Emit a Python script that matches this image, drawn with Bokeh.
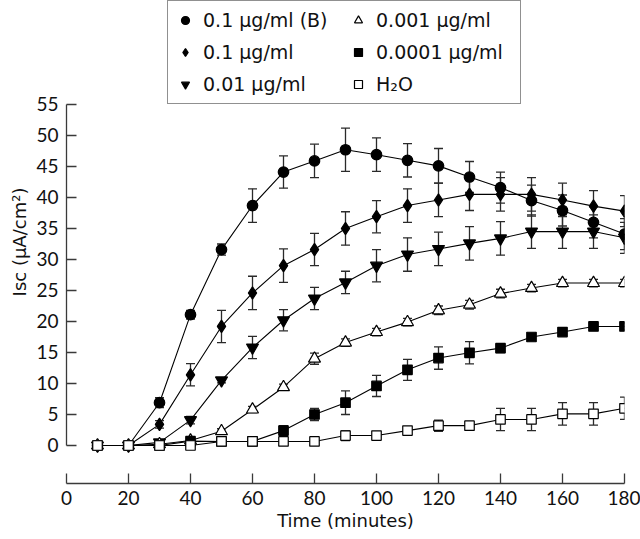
from bokeh.plotting import figure
from bokeh.models import Range1d, FixedTicker, Legend, LegendItem, Title
from bokeh.embed import file_html
from bokeh.resources import INLINE

# ---- data ----
time_min = [10, 20, 30, 40, 50, 60, 70, 80, 90, 100, 110, 120, 130, 140, 150, 160, 170, 180]

isc_01_b = [0, 0, 6.9, 21.1, 31.6, 38.7, 44.1, 45.9, 47.7, 46.9, 46.0, 45.1, 43.3, 41.6, 39.5, 37.9, 36.0, 34.1]
err_01_b = [0.3, 0.3, 0.8, 0.7, 0.9, 2.7, 2.6, 2.7, 3.5, 2.7, 2.7, 2.8, 2.5, 2.5, 2.5, 2.5, 2.5, 2.5]

isc_01 = [0, 0, 3.4, 11.4, 19.2, 24.6, 29.0, 31.6, 35.0, 36.9, 38.7, 39.6, 40.5, 40.5, 40.5, 39.6, 38.6, 37.8]
err_01 = [0.3, 0.3, 0.6, 1.8, 2.6, 2.7, 2.7, 2.6, 2.7, 2.6, 2.7, 2.7, 2.6, 2.7, 2.7, 2.7, 2.5, 2.5]

isc_001 = [0, 0, 0.5, 4.1, 10.5, 15.8, 20.2, 23.7, 26.3, 29.0, 30.8, 31.7, 32.6, 33.4, 34.5, 34.5, 34.5, 33.5]
err_001 = [0.3, 0.3, 0.4, 0.6, 0.4, 1.8, 1.7, 1.8, 1.8, 2.6, 2.7, 2.7, 2.7, 2.7, 2.7, 2.7, 2.7, 2.5]

isc_0001 = [0, 0, 0.2, 0.8, 2.3, 5.8, 9.4, 14.0, 16.6, 18.3, 19.9, 21.8, 22.7, 24.5, 25.4, 26.2, 26.2, 26.2]
err_0001 = [0.2, 0.2, 0.3, 0.4, 0.4, 0.5, 0.5, 0.9, 0.6, 0.6, 0.6, 0.7, 0.7, 0.7, 0.6, 0.6, 0.6, 0.6]

isc_00001 = [0, 0, 0, 0.7, 0.65, 0.65, 2.4, 5.0, 6.9, 9.6, 12.2, 14.1, 14.95, 15.7, 17.5, 18.3, 19.2, 19.2]
err_00001 = [0.3, 0.3, 0.3, 0.6, 0.3, 0.3, 0.8, 1.0, 1.9, 1.7, 1.7, 1.8, 1.8, 0.7, 0.5, 0.6, 0.6, 0.6]

isc_h2o = [0, 0, 0, 0, 0.65, 0.65, 0.65, 0.65, 1.6, 1.6, 2.4, 3.2, 3.2, 4.2, 4.2, 5.1, 5.1, 6.0]
err_h2o = [0.2, 0.2, 0.2, 0.3, 0.2, 0.2, 0.3, 0.6, 0.8, 0.6, 0.5, 0.9, 0.6, 1.8, 1.8, 1.8, 1.8, 1.8]

series_labels = ["0.1 \u03bcg/ml (B)", "0.1 \u03bcg/ml", "0.01 \u03bcg/ml",
                 "0.001 \u03bcg/ml", "0.0001 \u03bcg/ml", "H\u2082O"]

x_ticks = [0, 20, 40, 60, 80, 100, 120, 140, 160, 180]
y_ticks = [0, 5, 10, 15, 20, 25, 30, 35, 40, 45, 50, 55]

x_title = "Time (minutes)"
y_title = "Isc (\u03bcA/cm\u00b2)"

# ---- styles ----
TICK_FONT = "Lato"
TEXT_FONT = "DejaVu Sans"
INK = "#111111"
AXIS = "#3a3a3a"
styles = [
    dict(marker="circle", size=10.5, fill="black"),
    dict(marker="diamond", size=12.5, fill="black"),
    dict(marker="inverted_triangle", size=12, fill="black"),
    dict(marker="triangle", size=12, fill="white"),
    dict(marker="square", size=9.5, fill="black"),
    dict(marker="square", size=9.5, fill="white"),
]
values = [isc_01_b, isc_01, isc_001, isc_0001, isc_00001, isc_h2o]
errors = [err_01_b, err_01, err_001, err_0001, err_00001, err_h2o]

p = figure(width=640, height=539, output_backend="svg", toolbar_location=None,
           x_range=Range1d(0, 180), y_range=Range1d(-6.13, 71.77),
           min_border_left=66, min_border_right=16, min_border_top=0, min_border_bottom=56)
p.outline_line_color = None
p.xgrid.visible = False
p.ygrid.visible = False
p.background_fill_color = "white"
p.border_fill_color = "white"

for ax in (p.xaxis[0], p.yaxis[0]):
    ax.axis_line_color = AXIS
    ax.axis_line_width = 1.3
    ax.major_tick_line_color = AXIS
    ax.major_tick_line_width = 1.3
    ax.major_tick_in = 10
    ax.major_tick_out = 0
    ax.minor_tick_line_color = None
    ax.major_label_text_font = TICK_FONT
    ax.major_label_text_font_size = "19px"
    ax.major_label_text_color = INK

p.xaxis.ticker = FixedTicker(ticks=x_ticks)
p.yaxis.ticker = FixedTicker(ticks=y_ticks)
p.yaxis.bounds = (0, 55)
p.xaxis.bounds = (0, 180)
p.xaxis.major_label_standoff = 7
p.yaxis.major_label_standoff = 8
p.xaxis.axis_label = x_title
p.xaxis.axis_label_standoff = 2
p.xaxis.axis_label_text_font = TEXT_FONT
p.xaxis.axis_label_text_font_size = "18px"
p.xaxis.axis_label_text_font_style = "normal"
p.xaxis.axis_label_text_color = INK

for vals, errs in zip(values, errors):
    p.line(time_min, vals, line_color="black", line_width=1.1)
    lo = [v - e for v, e in zip(vals, errs)]
    hi = [v + e for v, e in zip(vals, errs)]
    p.segment(time_min, lo, time_min, hi, line_color="#2a2a2a", line_width=1.3)
    p.scatter(time_min, lo, marker="dash", size=9, line_color="#2a2a2a", line_width=1.3)
    p.scatter(time_min, hi, marker="dash", size=9, line_color="#2a2a2a", line_width=1.3)

scatter_renderers = []
for vals, st in zip(values, styles):
    r = p.scatter(time_min, vals, marker=st["marker"], size=st["size"],
                  fill_color=st["fill"], line_color="black", line_width=1.2)
    scatter_renderers.append(r)

legend = Legend(items=[LegendItem(label=lab, renderers=[r]) for lab, r in zip(series_labels, scatter_renderers)],
                location=(101, 379), orientation="vertical", nrows=3,
                label_text_font=TEXT_FONT, label_text_font_size="19px", label_text_color=INK,
                glyph_width=20, glyph_height=24, label_height=24, label_width=137,
                label_standoff=8, spacing=8, padding=7,
                margin=0, border_line_color="#222222", border_line_width=1.5,
                background_fill_color="white", background_fill_alpha=1.0)
p.add_layout(legend)

ytitle = Title(text=y_title, align="center", offset=-20, standoff=8,
               text_font=TEXT_FONT, text_font_size="18px", text_font_style="normal",
               text_color=INK)
p.add_layout(ytitle, "left")

open("out.html", "w").write(file_html(p, INLINE))
